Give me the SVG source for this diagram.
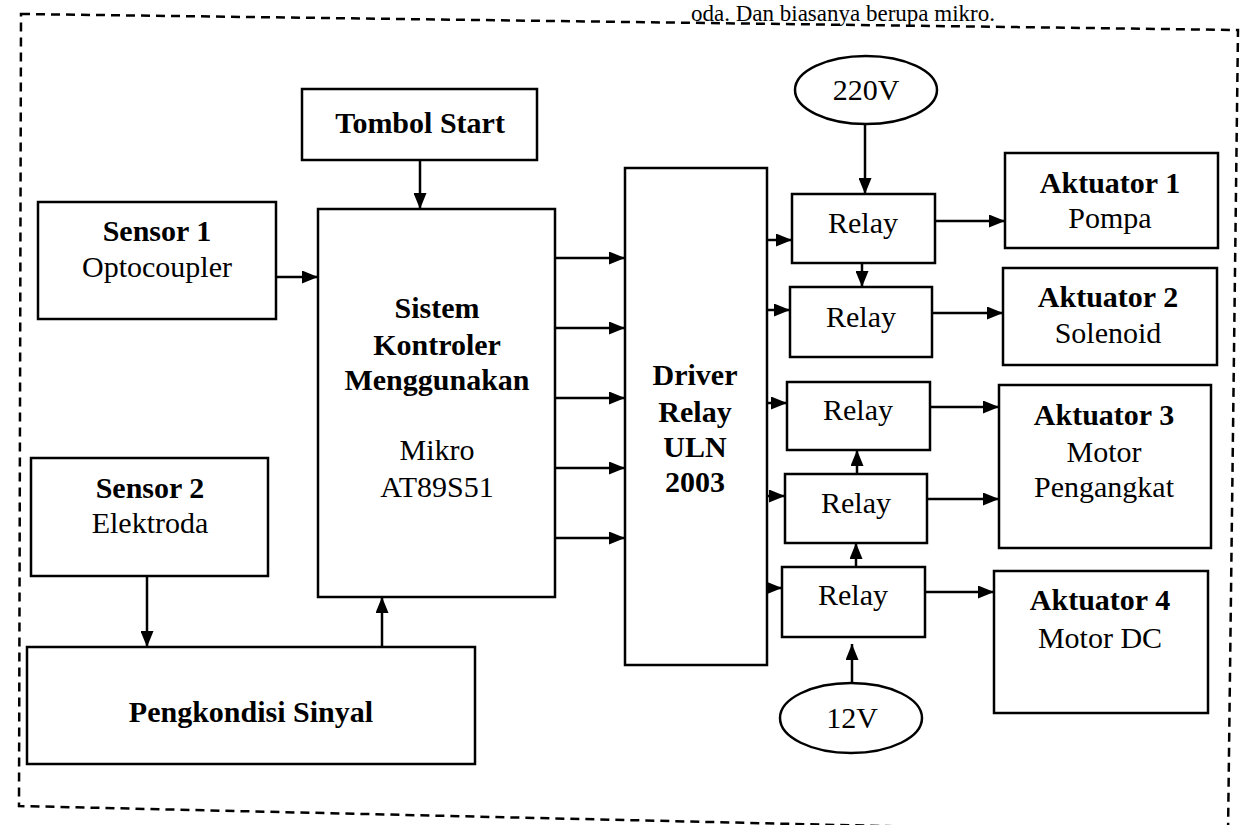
<svg xmlns="http://www.w3.org/2000/svg" width="1242" height="825" viewBox="0 0 1242 825">
<style>
.box{fill:#fff;stroke:#000;stroke-width:2.5}
.t{font-family:'Liberation Serif','Times New Roman','DejaVu Serif',serif;font-size:30px;fill:#000;text-anchor:middle}
.b{font-weight:bold}
.c{fill:none;stroke:#000;stroke-width:2.5}
</style>
<defs>
<marker id="ah" viewBox="0 0 16 13" refX="16" refY="6.5" markerWidth="16" markerHeight="13" orient="auto" markerUnits="userSpaceOnUse"><path d="M0,0 L16,6.5 L0,13 Z" fill="#000"/></marker>
</defs>
<rect width="1242" height="825" fill="#fff"/>
<text x="995" y="21" class="t" style="text-anchor:end;font-size:23px">oda. Dan biasanya berupa mikro.</text>
<path d="M21,14 L1238,30 L1228,834 L19,806 Z" fill="none" stroke="#000" stroke-width="2.5" stroke-dasharray="9,6"/>

<g id="connectors">
<line class="c" x1="420" y1="160" x2="420" y2="209" marker-end="url(#ah)"/>
<line class="c" x1="276" y1="277" x2="318" y2="277" marker-end="url(#ah)"/>
<line class="c" x1="147" y1="576" x2="147" y2="647" marker-end="url(#ah)"/>
<line class="c" x1="382" y1="647" x2="382" y2="597" marker-end="url(#ah)"/>
<line class="c" x1="555" y1="258" x2="625" y2="258" marker-end="url(#ah)"/>
<line class="c" x1="555" y1="328" x2="625" y2="328" marker-end="url(#ah)"/>
<line class="c" x1="555" y1="398" x2="625" y2="398" marker-end="url(#ah)"/>
<line class="c" x1="555" y1="468" x2="625" y2="468" marker-end="url(#ah)"/>
<line class="c" x1="555" y1="538" x2="625" y2="538" marker-end="url(#ah)"/>
<line class="c" x1="767" y1="240" x2="792" y2="240" marker-end="url(#ah)"/>
<line class="c" x1="767" y1="310" x2="790" y2="310" marker-end="url(#ah)"/>
<line class="c" x1="767" y1="403" x2="787" y2="403" marker-end="url(#ah)"/>
<line class="c" x1="767" y1="496" x2="785" y2="496" marker-end="url(#ah)"/>
<line class="c" x1="767" y1="588" x2="782" y2="588" marker-end="url(#ah)"/>
<line class="c" x1="865" y1="124" x2="865" y2="194" marker-end="url(#ah)"/>
<line class="c" x1="862" y1="263" x2="862" y2="287" marker-end="url(#ah)"/>
<line class="c" x1="857" y1="474" x2="857" y2="450" marker-end="url(#ah)"/>
<line class="c" x1="856" y1="567" x2="856" y2="543" marker-end="url(#ah)"/>
<line class="c" x1="852" y1="683" x2="852" y2="644" marker-end="url(#ah)"/>
<line class="c" x1="935" y1="221" x2="1005" y2="221" marker-end="url(#ah)"/>
<line class="c" x1="932" y1="313" x2="1003" y2="313" marker-end="url(#ah)"/>
<line class="c" x1="930" y1="407" x2="999" y2="407" marker-end="url(#ah)"/>
<line class="c" x1="927" y1="499" x2="999" y2="499" marker-end="url(#ah)"/>
<line class="c" x1="925" y1="592" x2="994" y2="592" marker-end="url(#ah)"/>
</g>

<g id="tombol"><rect class="box" x="302" y="89" width="235" height="71"/><text class="t b" x="420" y="133">Tombol Start</text></g>
<g id="sensor1"><rect class="box" x="38" y="202" width="238" height="117"/><text class="t b" x="157" y="241">Sensor 1</text><text class="t" x="157" y="277">Optocoupler</text></g>
<g id="kontroler"><rect class="box" x="318" y="209" width="237" height="388"/>
<text class="t b" x="437" y="318">Sistem</text><text class="t b" x="437" y="355">Kontroler</text><text class="t b" x="437" y="390">Menggunakan</text>
<text class="t" x="437" y="460">Mikro</text><text class="t" x="437" y="497">AT89S51</text></g>
<g id="sensor2"><rect class="box" x="31" y="458" width="237" height="118"/><text class="t b" x="150" y="498">Sensor 2</text><text class="t" x="150" y="533">Elektroda</text></g>
<g id="pengkondisi"><rect class="box" x="27" y="647" width="448" height="117"/><text class="t b" x="251" y="722">Pengkondisi Sinyal</text></g>
<g id="driver"><rect class="box" x="625" y="168" width="142" height="497"/>
<text class="t b" x="695" y="385">Driver</text><text class="t b" x="695" y="422">Relay</text><text class="t b" x="695" y="457">ULN</text><text class="t b" x="695" y="492">2003</text></g>
<g id="v220"><ellipse class="box" cx="866" cy="90" rx="71" ry="34"/><text class="t" x="866" y="100">220V</text></g>
<g id="v12"><ellipse class="box" cx="851" cy="718" rx="71" ry="35"/><text class="t" x="852" y="728">12V</text></g>
<g id="relay1"><rect class="box" x="792" y="194" width="143" height="69"/><text class="t" x="863" y="233">Relay</text></g>
<g id="relay2"><rect class="box" x="790" y="287" width="142" height="70"/><text class="t" x="861" y="327">Relay</text></g>
<g id="relay3"><rect class="box" x="787" y="382" width="143" height="68"/><text class="t" x="858" y="420">Relay</text></g>
<g id="relay4"><rect class="box" x="785" y="474" width="142" height="69"/><text class="t" x="856" y="513">Relay</text></g>
<g id="relay5"><rect class="box" x="782" y="567" width="143" height="70"/><text class="t" x="853" y="605">Relay</text></g>
<g id="akt1"><rect class="box" x="1005" y="153" width="213" height="95"/><text class="t b" x="1110" y="193">Aktuator 1</text><text class="t" x="1110" y="228">Pompa</text></g>
<g id="akt2"><rect class="box" x="1003" y="268" width="214" height="97"/><text class="t b" x="1108" y="307">Aktuator 2</text><text class="t" x="1108" y="343">Solenoid</text></g>
<g id="akt3"><rect class="box" x="999" y="385" width="212" height="163"/><text class="t b" x="1104" y="425">Aktuator 3</text><text class="t" x="1104" y="462">Motor</text><text class="t" x="1104" y="497">Pengangkat</text></g>
<g id="akt4"><rect class="box" x="994" y="571" width="214" height="142"/><text class="t b" x="1100" y="610">Aktuator 4</text><text class="t" x="1100" y="648">Motor DC</text></g>
</svg>
